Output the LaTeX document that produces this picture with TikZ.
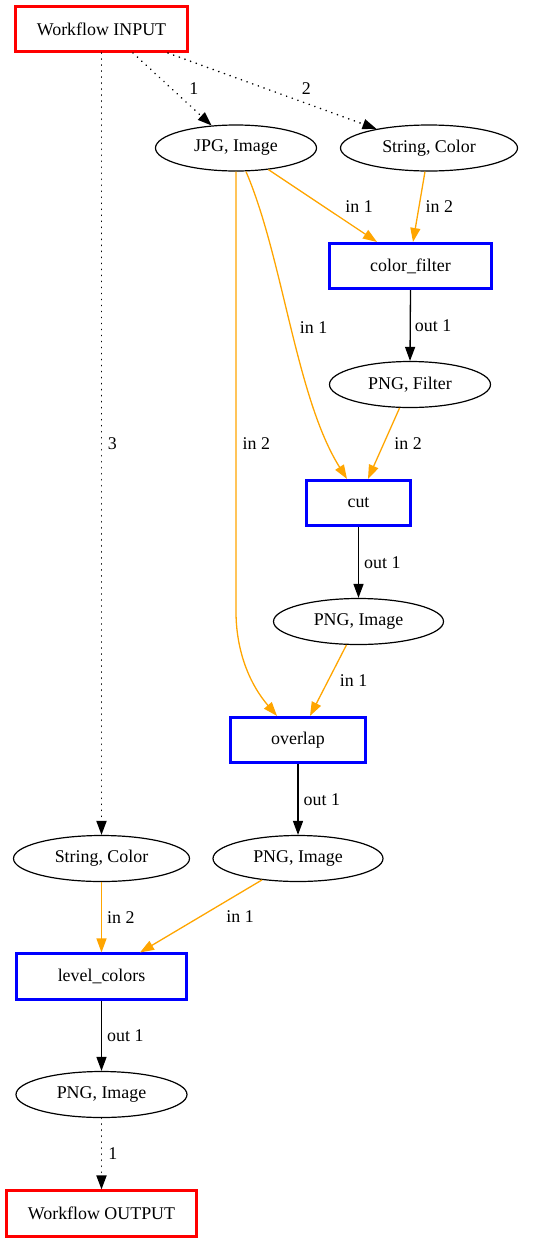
\documentclass[tikz,border=0pt]{standalone}
\usepackage{fontspec}
\setmainfont{Liberation Serif}
\usetikzlibrary{arrows.meta}
\usetikzlibrary{shapes.geometric}
\definecolor{gvorange}{RGB}{255,165,0}

\begin{document}
\begin{tikzpicture}[
x=1pt, y=-1pt,
font=\fontsize{17.9}{21}\selectfont,
datanode/.style={ellipse, draw=black, line width=1.2pt, inner sep=0pt, minimum height=46pt},
stepnode/.style={rectangle, draw=blue, line width=2.6pt, minimum height=45.5pt},
ionode/.style={rectangle, draw=red, line width=2.6pt, minimum height=45.5pt},
port/.style={text=black, inner sep=0pt, anchor=west},
outlink/.style={-{Triangle[length=14pt,width=10pt]}, line width=1.3pt, color=black},
inlink/.style={-{Triangle[length=14pt,width=10pt]}, line width=1.3pt, color=gvorange},
wflink/.style={-{Triangle[length=14pt,width=10pt]}, line width=1.8pt, line cap=round, dash pattern=on 0.01pt off 6pt},
]
\useasboundingbox (0,0) rectangle (542,1243);

%Nodes
\node[ionode, minimum width=172.5pt]   (wfin)    at (101.5,29)    {Workflow INPUT};
\node[datanode, minimum width=161pt]   (jpgimg)  at (236,148)     {JPG, Image};
\node[datanode, minimum width=177pt]   (strcol)  at (429,148)     {String, Color};
\node[stepnode, minimum width=162.5pt] (cfilter) at (410.5,266)   {color\_filter};
\node[datanode, minimum width=161pt]   (pngfil)  at (410,384.5)   {PNG, Filter};
\node[stepnode, minimum width=104.5pt] (cut)     at (358.5,503)   {cut};
\node[datanode, minimum width=170pt]   (pngcut)  at (358.5,621.5) {PNG, Image};
\node[stepnode, minimum width=135.5pt] (overlap) at (298,740)     {overlap};
\node[datanode, minimum width=176pt]   (strlvl)  at (101.5,858.5) {String, Color};
\node[datanode, minimum width=170pt]   (pngov)   at (298,858.5)   {PNG, Image};
\node[stepnode, minimum width=170.5pt] (lvlcol)  at (101.5,976.5) {level\_colors};
\node[datanode, minimum width=171pt]   (pnglvl)  at (101.5,1094.5) {PNG, Image};
\node[ionode, minimum width=190.5pt]   (wfout)   at (101.5,1213.5) {Workflow OUTPUT};

%Lines
\draw[wflink] ([xshift=31.5pt]wfin.south) -- (jpgimg) node[port, pos=0.49, xshift=17pt] {1};
\draw[wflink] ([xshift=66.5pt]wfin.south) -- (strcol) node[port, pos=0.47, xshift=35pt] {2};
\draw[wflink] (wfin.south) -- (strlvl.north) node[port, pos=0.5, xshift=5.5pt] {3};
\draw[inlink] (jpgimg) -- ([xshift=-33.5pt]cfilter.north) node[port, pos=0.51, xshift=21pt] {in 1};
\draw[inlink] (strcol) -- ([xshift=2.5pt]cfilter.north) node[port, pos=0.5, xshift=6pt] {in 2};
\draw[outlink] (cfilter.south) -- (pngfil.north) node[port, pos=0.5, xshift=4pt] {out 1};
\draw[inlink] ([xshift=10pt]jpgimg.south) .. controls +(37,86) and +(-51,-81) .. ([xshift=-11.5pt]cut.north) node[port, pos=0.5, xshift=8pt] {in 1};
\draw[inlink] (pngfil) -- ([xshift=9.5pt]cut.north) node[port, pos=0.5, xshift=10pt] {in 2};
\draw[outlink] (cut.south) -- (pngcut.north) node[port, pos=0.5, xshift=5pt] {out 1};
\draw[inlink] (jpgimg.south) -- node[port, pos=0.617, xshift=6pt] {in 2} ++(0,440) .. controls +(0,35) and +(-30,-35) .. ([xshift=-21pt]overlap.north);
\draw[inlink] (pngcut) -- ([xshift=12pt]overlap.north) node[port, pos=0.5, xshift=11pt] {in 1};
\draw[outlink] (overlap.south) -- (pngov.north) node[port, pos=0.5, xshift=5pt] {out 1};
\draw[inlink] (strlvl.south) -- (lvlcol.north) node[port, pos=0.5, xshift=5pt] {in 2};
\draw[inlink] (pngov) -- ([xshift=38.5pt]lvlcol.north) node[port, pos=0.51, xshift=26pt] {in 1};
\draw[outlink] (lvlcol.south) -- (pnglvl.north) node[port, pos=0.5, xshift=5pt] {out 1};
\draw[wflink] (pnglvl.south) -- (wfout.north) node[port, pos=0.5, xshift=6pt] {1};
\end{tikzpicture}
\end{document}
